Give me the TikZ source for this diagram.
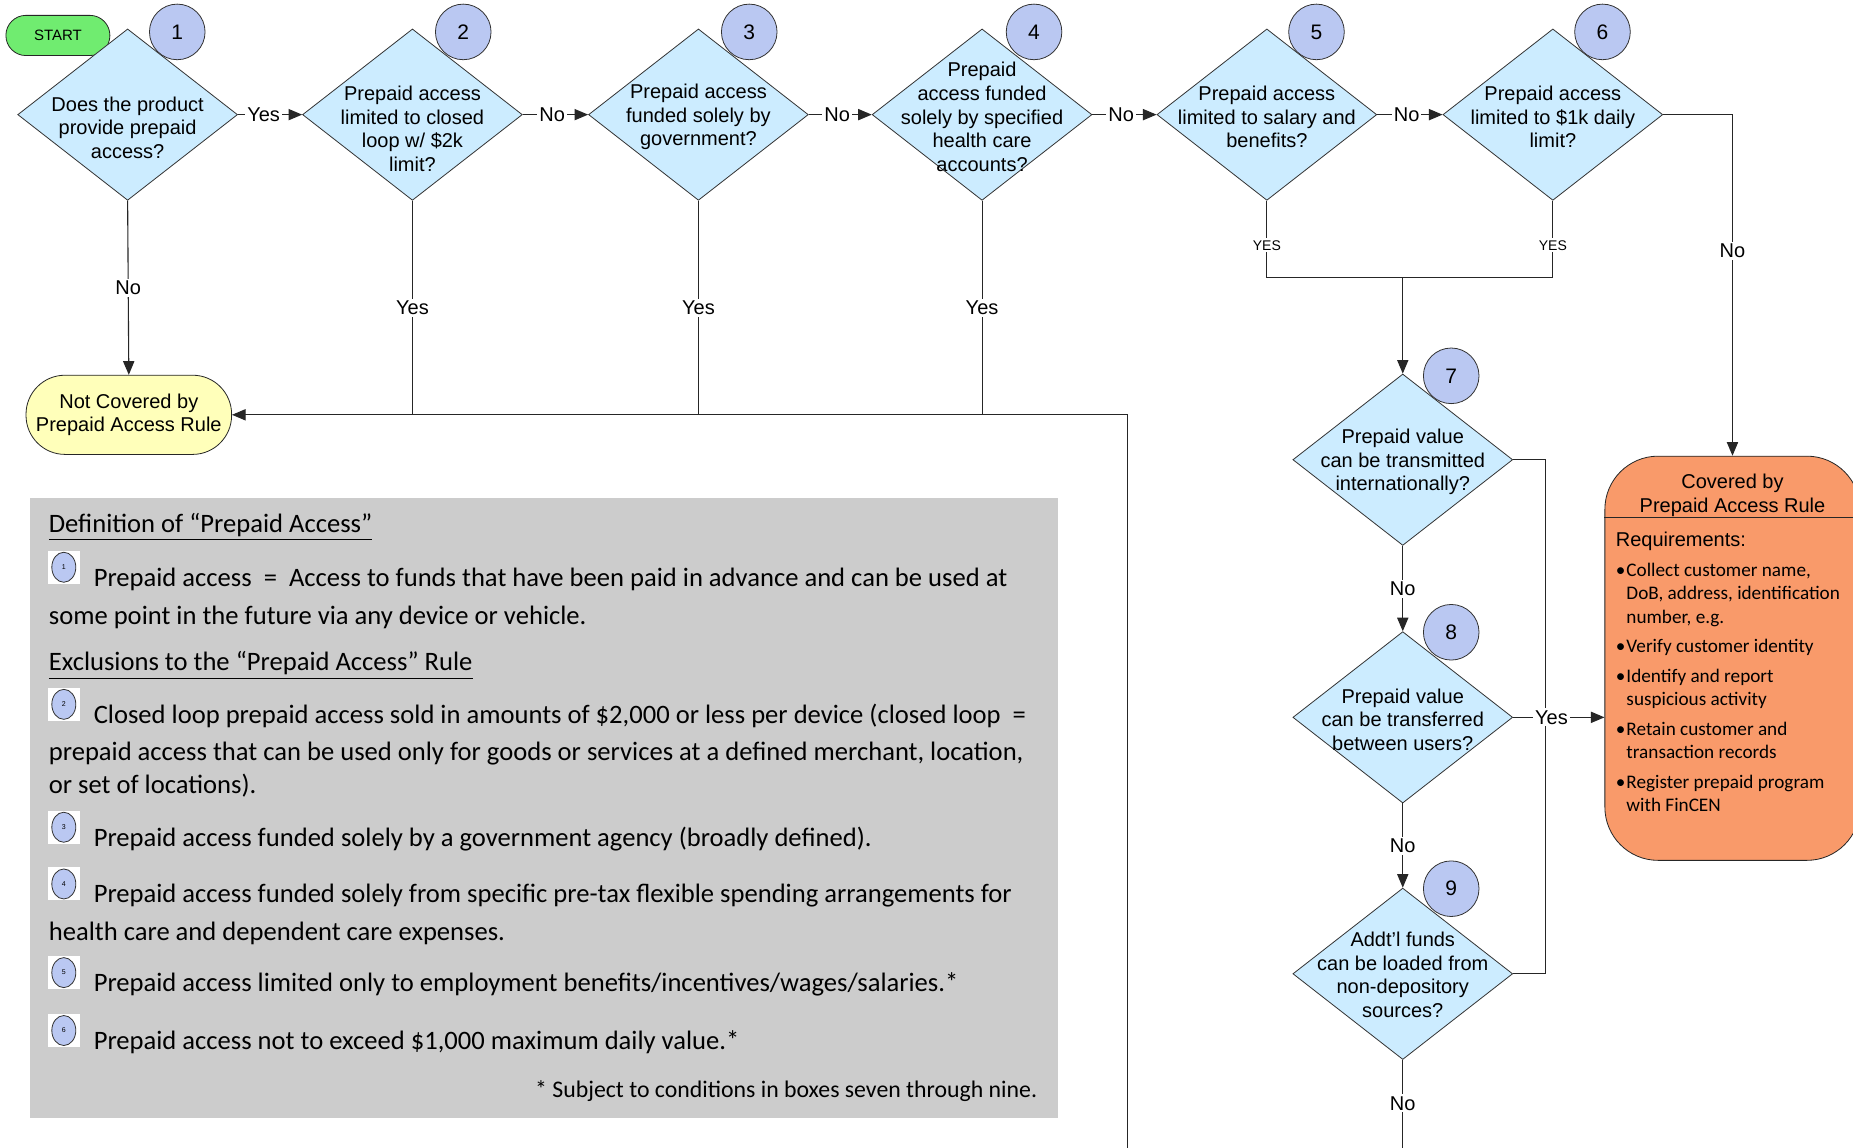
\documentclass[tikz,border=0pt]{standalone}
\usepackage{fontspec}
\setmainfont{Liberation Sans}
\newfontfamily\legendfont{Carlito}
\usetikzlibrary{shapes.geometric,arrows.meta,positioning}

\definecolor{qblue}{RGB}{204,236,255}
\definecolor{numblue}{RGB}{186,200,242}
\definecolor{legendgray}{RGB}{204,204,204}
\definecolor{startgreen}{RGB}{112,236,112}
\definecolor{notyellow}{RGB}{255,255,186}
\definecolor{covorange}{RGB}{249,154,106}

\tikzset{
  decision/.style = {diamond, draw=black!80, fill=qblue,
                     minimum width=109.9pt, minimum height=85.7pt, inner sep=0pt},
  qtext/.style    = {align=center, inner sep=0pt, yshift=-1.2pt, font=\fontsize{10}{11.8}\selectfont},
  num/.style      = {circle, draw=black!80, fill=numblue, minimum size=27.8pt,
                     inner sep=0pt, font=\fontsize{10.5}{12}\selectfont},
  term/.style     = {rectangle, draw=black!85, align=center, inner sep=0pt},
  flow/.style     = {draw=black!85, line width=0.55pt},
  arr/.style      = {flow, -{Triangle[length=6.8pt, width=5.6pt]}},
  yn/.style       = {fill=white, inner sep=1pt, font=\fontsize{10}{12}\selectfont},
  ynsmall/.style  = {fill=white, inner sep=1pt, font=\fontsize{7}{8}\selectfont},
  legend/.style   = {anchor=west, inner sep=0pt, yshift=-1.8pt, font=\legendfont\fontsize{13.3}{16}\selectfont},
  keybox/.style   = {rectangle, fill=white, minimum width=16pt, minimum height=16.5pt, inner sep=0pt},
  keynum/.style   = {ellipse, draw=black!80, fill=numblue, minimum width=12pt,
                     minimum height=15pt, inner sep=0pt, font=\fontsize{3.5}{4}\selectfont},
  reqtext/.style  = {anchor=north west, align=left, inner sep=0pt,
                     font=\legendfont\fontsize{9.6}{11.8}\selectfont}
}

% small numbered key in the legend
\newcommand\keyicon[3]{%
  \node[keybox] (#1) at (#2) {};
  \node[keynum] (#1n) at (#1) {#3};}
\newcommand\bul{\makebox[5.3pt][l]{\textbullet}}
\newcommand\ind{\hspace*{5.3pt}}

\begin{document}
\begin{tikzpicture}[x=0.5909pt, y=-0.5909pt]
	\clip (0,0) rectangle (1568,971);
	\fill[white] (0,0) rectangle (1568,971);

	% Legend panel
	\fill[legendgray] (25,421) rectangle (895,946);
	\node[legend] (defhead) at (41,443) {\underline{Definition of “Prepaid Access”}};
	\keyicon{k1}{54,480}{1}
	\node[legend] (def1a) at (79,487) {Prepaid access \ = \ Access to funds that have been paid in advance and can be used at};
	\node[legend] (def1b) at (41,519) {some point in the future via any device or vehicle.};
	\node[legend] (exhead) at (41,560) {\underline{Exclusions to the “Prepaid Access” Rule}};
	\keyicon{k2}{54,596}{2}
	\node[legend] (ex2a) at (79,603) {Closed loop prepaid access sold in amounts of \$2,000 or less per device (closed loop \ =};
	\node[legend] (ex2b) at (41,635) {prepaid access that can be used only for goods or services at a defined merchant, location,};
	\node[legend] (ex2c) at (41,662) {or set of locations).};
	\keyicon{k3}{54,700}{3}
	\node[legend] (ex3) at (79,707) {Prepaid access funded solely by a government agency (broadly defined).};
	\keyicon{k4}{54,748}{4}
	\node[legend] (ex4a) at (79,755) {Prepaid access funded solely from specific pre-tax flexible spending arrangements for};
	\node[legend] (ex4b) at (41,787) {health care and dependent care expenses.};
	\keyicon{k5}{54,823}{5}
	\node[legend] (ex5) at (79,830) {Prepaid access limited only to employment benefits/incentives/wages/salaries.*};
	\keyicon{k6}{54,872}{6}
	\node[legend] (ex6) at (79,879) {Prepaid access not to exceed \$1,000 maximum daily value.*};
	\node[legend, anchor=east, font=\legendfont\fontsize{11.9}{14}\selectfont] (foot) at (878,920)
		{* Subject to conditions in boxes seven through nine.};

	% Terminators
	\node[term, fill=startgreen, minimum width=52pt, minimum height=20.1pt, rounded corners=10pt,
		font=\fontsize{7.5}{9}\selectfont] (start) at (49,30) {START};
	\node[term, fill=notyellow, minimum width=102.8pt, minimum height=39.6pt, rounded corners=19.5pt,
		font=\fontsize{10}{11.8}\selectfont] (nc) at (109,351) {Not Covered by\\Prepaid Access Rule};
	\node[term, fill=covorange, minimum width=127.6pt, minimum height=202.1pt, rounded corners=26.6pt] (cov) at (1466,557) {};
	\draw[flow] (cov.west |- 0,438) -- (cov.east |- 0,438);
	\node[qtext] (covt) at (1466,417) {Covered by\\Prepaid Access Rule};
	\node[reqtext] (req) at (1367,450) {{\fontspec{Liberation Sans}\fontsize{10}{11.8}\selectfont Requirements:}\\[2.9pt]
		\bul Collect customer name,\\
		\ind DoB, address, identification\\
		\ind number, e.g.\\[2.9pt]
		\bul Verify customer identity\\[2.9pt]
		\bul Identify and report\\
		\ind suspicious activity\\[2.9pt]
		\bul Retain customer and\\
		\ind transaction records\\[2.9pt]
		\bul Register prepaid program\\
		\ind with FinCEN};

	% Decisions
	\node[decision] (q1) at (108,97) {};
	\node[decision] (q2) at (349,97) {};
	\node[decision] (q3) at (591,97) {};
	\node[decision] (q4) at (831,97) {};
	\node[decision] (q5) at (1072,97) {};
	\node[decision] (q6) at (1314,97) {};
	\node[decision] (q7) at (1187,389) {};
	\node[decision] (q8) at (1187,607) {};
	\node[decision] (q9) at (1187,824) {};

	\node[qtext] (q1t) at (108,106) {Does the product\\provide prepaid\\access?};
	\node[qtext] (q2t) at (349,107) {Prepaid access\\limited to closed\\loop w/ \$2k\\limit?};
	\node[qtext] (q3t) at (591,97) {Prepaid access\\funded solely by\\government?};
	\node[qtext] (q4t) at (831,97) {Prepaid\\access funded\\solely by specified\\health care\\accounts?};
	\node[qtext] (q5t) at (1072,97) {Prepaid access\\limited to salary and\\benefits?};
	\node[qtext] (q6t) at (1314,97) {Prepaid access\\limited to \$1k daily\\limit?};
	\node[qtext] (q7t) at (1187,389) {Prepaid value\\can be transmitted\\internationally?};
	\node[qtext] (q8t) at (1187,607) {Prepaid value\\can be transferred\\between users?};
	\node[qtext] (q9t) at (1187,823) {Addt’l funds\\can be loaded from\\non-depository\\sources?};

	% Step numbers
	\node[num] (n1) at (150,27) {1};
	\node[num] (n2) at (392,27) {2};
	\node[num] (n3) at (634,27) {3};
	\node[num] (n4) at (875,27) {4};
	\node[num] (n5) at (1114,27) {5};
	\node[num] (n6) at (1356,27) {6};
	\node[num] (n7) at (1228,318) {7};
	\node[num] (n8) at (1228,535) {8};
	\node[num] (n9) at (1228,752) {9};

	% Top row
	\draw[arr] (q1.east) -- node[yn, pos=0.4] {Yes} (q2.west);
	\draw[arr] (q2.east) -- node[yn, pos=0.45] {No} (q3.west);
	\draw[arr] (q3.east) -- node[yn, pos=0.45] {No} (q4.west);
	\draw[arr] (q4.east) -- node[yn, pos=0.45] {No} (q5.west);
	\draw[arr] (q5.east) -- node[yn, pos=0.45] {No} (q6.west);

	% Not covered
	\coordinate (ret) at (954,351);
	\coordinate (retlow) at (954,975);
	\draw[arr] (q1.south) -- node[yn] {No} (nc.north);
	\draw[flow] (q2.south) -- node[yn] {Yes} (q2.south |- nc.east);
	\draw[flow] (q3.south) -- node[yn] {Yes} (q3.south |- nc.east);
	\draw[flow] (q4.south) -- node[yn] {Yes} (q4.south |- nc.east);
	\draw[arr] (retlow) -- (ret) -- (nc.east);

	% Boxes 5 and 6 to box 7
	\coordinate (merge) at (1187,235);
	\draw[flow] (q5.south) |- node[ynsmall, pos=0.29] {YES} (merge);
	\draw[flow] (q6.south) |- node[ynsmall, pos=0.29] {YES} (merge);
	\draw[arr] (merge) -- (q7.north);
	\draw[arr] (q6.east) -| node[yn, pos=0.7] {No} (cov.north);

	% Column 7-9
	\coordinate (join) at (1308,607);
	\coordinate (q9out) at (1187,975);
	\draw[flow] (q7.east) -| (join);
	\draw[flow] (q9.east) -| (join);
	\draw[arr] (q7.south) -- node[yn] {No} (q8.north);
	\draw[arr] (q8.south) -- node[yn] {No} (q9.north);
	\draw[flow] (q9.south) -- node[yn, pos=0.47] {No} (q9out);
	\draw[arr] (q8.east) -- node[yn, pos=0.42] {Yes} (q8.east -| cov.west);
\end{tikzpicture}
\end{document}
